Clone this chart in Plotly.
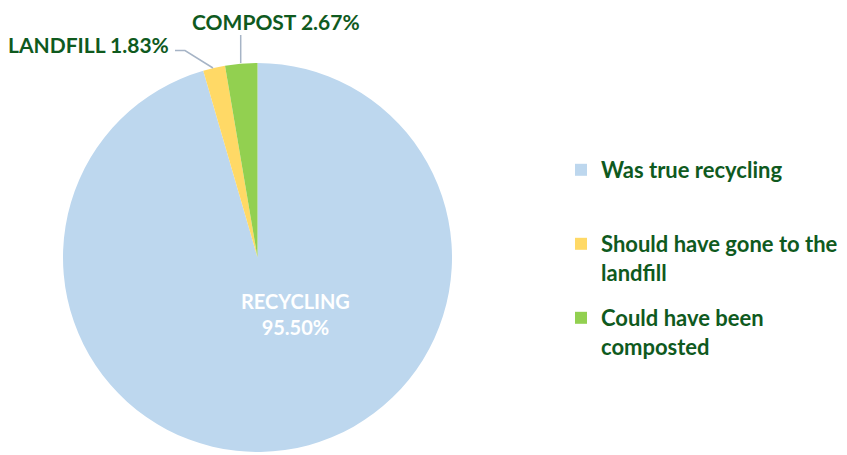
import plotly.graph_objects as go

# The page body adds an 8px margin, so the figure is offset by that amount.
OFF = 8
FW, FH = 847 - OFF, 455 - OFF

categories = ["RECYCLING", "LANDFILL", "COMPOST"]
legend_labels = ["Was true recycling", "Should have gone to the<br>landfill", "Could have been<br>composted"]
values = [95.50, 1.83, 2.67]
colors = ["#BDD7EE", "#FFD966", "#92D050"]

TEXT_GREEN = "#0F5A1E"
FONT = "Lato, Carlito, Calibri, sans-serif"


def px(x):
    return (x - OFF) / FW


def py(y):
    return 1 - (y - OFF) / FH


fig = go.Figure()
fig.add_trace(go.Pie(
    labels=categories,
    values=values,
    marker=dict(colors=colors, line=dict(width=0)),
    sort=False,
    direction="clockwise",
    rotation=0,
    textinfo="none",
    hoverinfo="label+percent",
    showlegend=False,
    domain=dict(x=[px(63), px(452)], y=[py(452), py(63)]),
))

# legend entries (one legend per entry so spacing can match the reference)
legend_names = ["legend", "legend2", "legend3"]
for lab, col, lg in zip(legend_labels, colors, legend_names):
    fig.add_trace(go.Scatter(
        x=[None], y=[None], mode="markers", name=lab, legend=lg,
        marker=dict(symbol="square", size=12, color=col),
        hoverinfo="skip",
    ))

legend_tops = [149, 223, 297]
legend_style = dict(
    font=dict(family=FONT, size=22, color=TEXT_GREEN, weight="bold"),
    itemwidth=30, valign="top", bgcolor="rgba(0,0,0,0)",
    xanchor="left", yanchor="top",
)

annotations = [
    dict(x=px(295), y=py(314), xref="paper", yref="paper",
         xanchor="center", yanchor="middle",
         text=f"{categories[0]}<br>{values[0]:.2f}%", showarrow=False,
         font=dict(family=FONT, size=20, color="white", weight="bold")),
    dict(x=px(170), y=py(44), xref="paper", yref="paper",
         xanchor="right", yanchor="middle", borderpad=0,
         text=f"{categories[1]} {values[1]:.2f}%", showarrow=False,
         font=dict(family=FONT, size=21, color=TEXT_GREEN, weight="bold")),
    dict(x=px(276), y=py(21.5), xref="paper", yref="paper",
         xanchor="center", yanchor="middle", borderpad=0,
         text=f"{categories[2]} {values[2]:.2f}%", showarrow=False,
         font=dict(family=FONT, size=21, color=TEXT_GREEN, weight="bold")),
]

line_style = dict(color="#A6B4C6", width=1.5)
shapes = [
    dict(type="path", xref="paper", yref="paper",
         path=f"M {px(175)},{py(50.5)} L {px(185)},{py(50.5)} L {px(213)},{py(68)}",
         line=line_style),
    dict(type="line", xref="paper", yref="paper",
         x0=px(240.7), y0=py(35), x1=px(240.7), y1=py(63), line=line_style),
]

fig.update_layout(
    width=FW, height=FH,
    margin=dict(l=0, r=0, t=0, b=0),
    paper_bgcolor="white",
    plot_bgcolor="white",
    showlegend=True,
    xaxis=dict(visible=False),
    yaxis=dict(visible=False),
    legend=dict(x=px(561), y=py(legend_tops[0]), **legend_style),
    legend2=dict(x=px(561), y=py(legend_tops[1]), **legend_style),
    legend3=dict(x=px(561), y=py(legend_tops[2]), **legend_style),
    annotations=annotations,
    shapes=shapes,
)

fig.write_html("out.html")
